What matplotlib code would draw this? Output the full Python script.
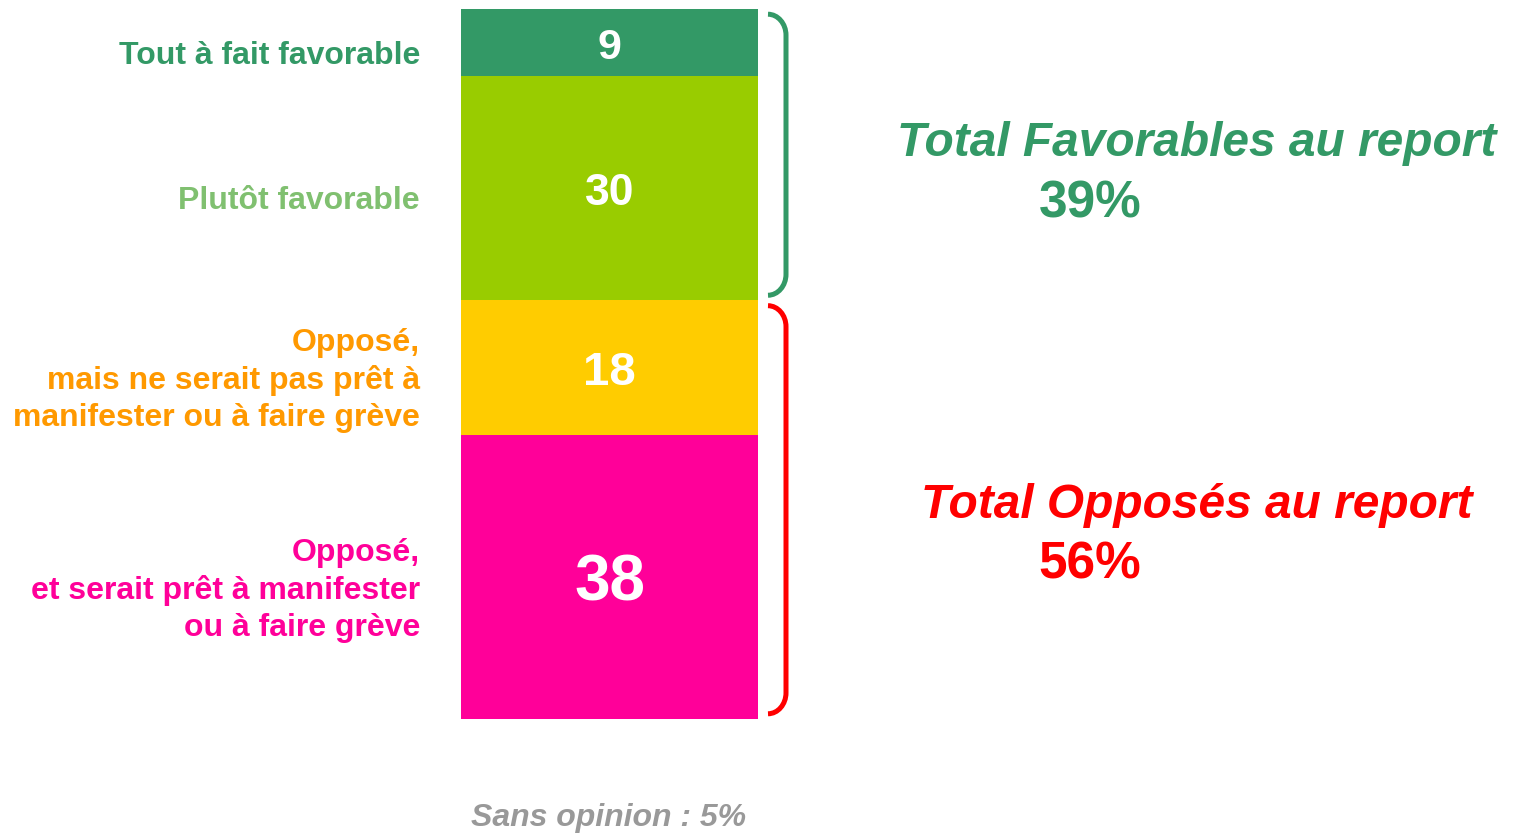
import matplotlib
matplotlib.use("Agg")
import matplotlib.pyplot as plt
from matplotlib.path import Path
from matplotlib.patches import PathPatch
from matplotlib.transforms import blended_transform_factory, offset_copy
import numpy as np

# ---- data ----
categories = [
    "Tout à fait favorable",
    "Plutôt favorable",
    "Opposé,\nmais ne serait pas prêt à\nmanifester ou à faire grève",
    "Opposé,\net serait prêt à manifester\nou à faire grève",
]
values = [9, 30, 18, 38]
sans_opinion = 5
bar_colors = ["#339966", "#99CC00", "#FFCC00", "#FF0099"]
label_colors = ["#339966", "#80C070", "#FF9900", "#FF0099"]
value_sizes = [31, 32, 34, 46]
groups = [("Total Favorables au report", [0, 1], "#339966"),
          ("Total Opposés au report", [2, 3], "#FF0000")]

W, H = 1513, 833
fig = plt.figure(figsize=(W / 100, H / 100), dpi=100)
FONT = ["Liberation Sans", "DejaVu Sans"]
NARROW = ["Liberation Sans Narrow", "Liberation Sans", "DejaVu Sans"]

# bar axes in pixel placement
left, right, top, bottom = 461, 758, 9, 719
ax = fig.add_axes([left / W, 1 - bottom / H, (right - left) / W, (bottom - top) / H])
total = sum(values)
ax.set_xlim(-0.5, 0.5)
ax.set_ylim(total, 0)
ax.axis("off")

starts = np.concatenate([[0], np.cumsum(values)[:-1]])
ax.bar([0] * len(values), values, bottom=starts, width=1.0, color=bar_colors, linewidth=0)

for v, s, sz in zip(values, starts, value_sizes):
    tr = offset_copy(ax.transData, fig=fig, y=-0.37 * sz, units="points")
    ax.text(0, s + v / 2, str(v), transform=tr, ha="center", va="baseline", color="white",
            fontsize=sz, fontweight="bold", family=FONT)

# category labels left (right aligned at x=420 px)
tr_lab = blended_transform_factory(fig.transFigure, ax.transData)
for cat, v, s, c in zip(categories, values, starts, label_colors):
    ax.text(420 / W, s + v / 2 + 1.75, cat, transform=tr_lab, ha="right", va="center",
            color=c, fontsize=23, fontweight="bold", family=FONT, linespacing=1.3,
            multialignment="right")

# braces
tr_br = blended_transform_factory(ax.transAxes, ax.transData)
x0 = (768 - left) / (right - left)
x1 = (786 - left) / (right - left)
r = 2.8
gap = 0.7
for title, idx, col in groups:
    y_top = starts[idx[0]] + gap
    y_bot = starts[idx[-1]] + values[idx[-1]] - gap
    k = 0.55
    verts = [(x0, y_top), (x0 + k * (x1 - x0), y_top), (x1, y_top + (1 - k) * r), (x1, y_top + r),
             (x1, y_bot - r),
             (x1, y_bot - (1 - k) * r), (x0 + k * (x1 - x0), y_bot), (x0, y_bot)]
    codes = [Path.MOVETO, Path.CURVE4, Path.CURVE4, Path.CURVE4, Path.LINETO,
             Path.CURVE4, Path.CURVE4, Path.CURVE4]
    ax.add_patch(PathPatch(Path(verts, codes), transform=tr_br, fill=False,
                           edgecolor=col, linewidth=3.6, capstyle="butt", clip_on=False))

# group totals on the right
fav_total = sum(values[i] for i in groups[0][1])
opp_total = sum(values[i] for i in groups[1][1])
def fx(px):
    return px / W
def fy(py):
    return 1 - py / H
fig.text(fx(1197), fy(143), groups[0][0], ha="center", va="center", color=groups[0][2],
         fontsize=34.5, fontweight="bold", style="italic", family=FONT)
fig.text(fx(1090), fy(204), f"{fav_total}%", ha="center", va="center", color=groups[0][2],
         fontsize=37, fontweight="bold", family=NARROW)
fig.text(fx(1197), fy(505), groups[1][0], ha="center", va="center", color=groups[1][2],
         fontsize=34.5, fontweight="bold", style="italic", family=FONT)
fig.text(fx(1090), fy(565), f"{opp_total}%", ha="center", va="center", color=groups[1][2],
         fontsize=37, fontweight="bold", family=NARROW)

fig.text(fx(609), fy(818), f"Sans opinion : {sans_opinion}%", ha="center", va="center",
         color="#999999", fontsize=23, fontweight="bold", style="italic", family=FONT)

fig.savefig("out.png", dpi=100, facecolor="white")
